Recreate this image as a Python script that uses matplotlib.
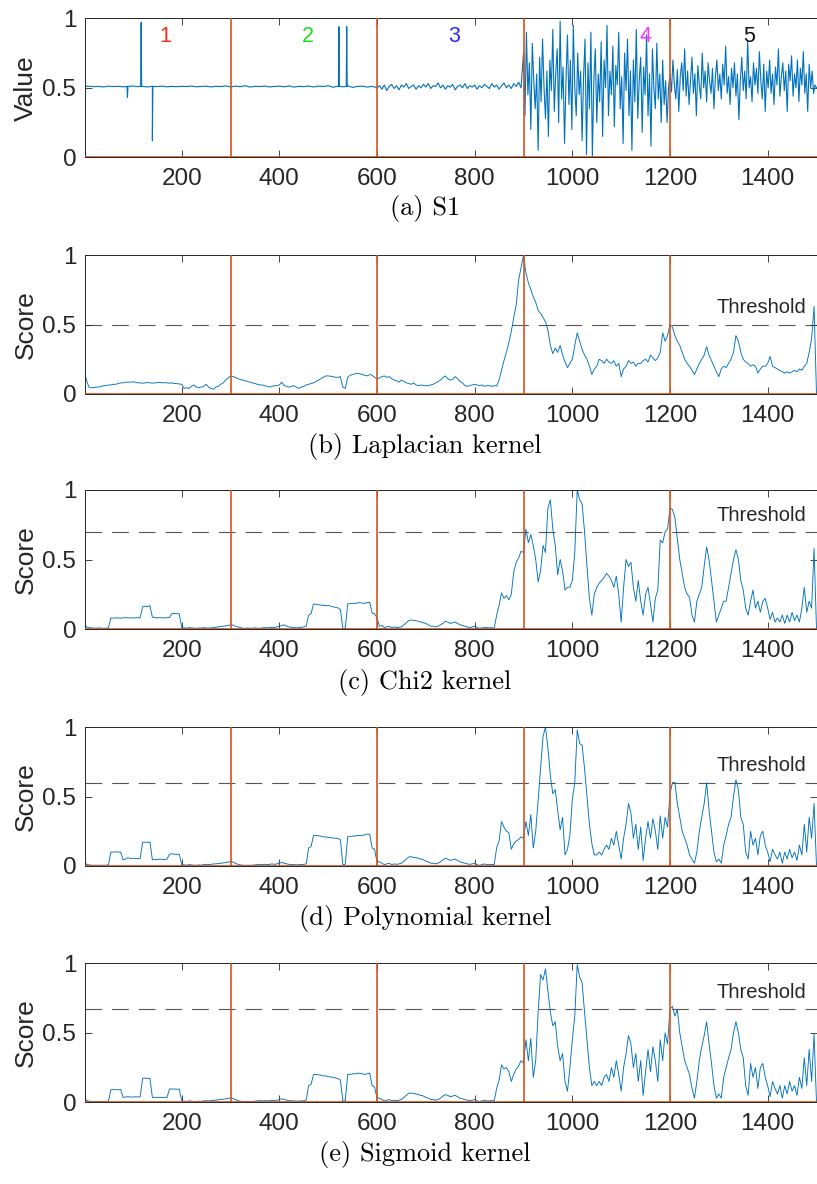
import matplotlib
matplotlib.use("Agg")
import matplotlib.pyplot as plt
import numpy as np

plt.rcParams['font.family'] = ['Liberation Sans', 'DejaVu Sans']
plt.rcParams['axes.unicode_minus'] = False

# --- data --------------------------------------------------------------
change_points = [300, 600, 900, 1200]
seg_labels = ['1', '2', '3', '4', '5']
seg_label_x = [167, 458, 757, 1150, 1363]
seg_label_colors = ['#FF2A1A', '#1AE01A', '#2A2AFF', '#FF33FF', '#111111']

# S1: quiet part (x = 0..590, step 10)
s1_seg12 = [0.51, 0.512, 0.508, 0.51, 0.506, 0.512, 0.509, 0.511, 0.507, 0.51,
            0.513, 0.508, 0.51, 0.506, 0.511, 0.509, 0.512, 0.507, 0.51, 0.508,
            0.511, 0.509, 0.513, 0.507, 0.51, 0.512, 0.506, 0.511, 0.509, 0.514,
            0.506, 0.512, 0.508, 0.515, 0.505, 0.511, 0.509, 0.513, 0.506, 0.51,
            0.512, 0.507, 0.514, 0.505, 0.511, 0.508, 0.513, 0.506, 0.512, 0.509,
            0.515, 0.504, 0.511, 0.507, 0.514, 0.503, 0.51, 0.512, 0.505, 0.511]
# S1: segment 3 (x = 600..895, step 5)
s1_seg3 = [0.5, 0.515, 0.49, 0.52, 0.48, 0.51, 0.525, 0.495, 0.515, 0.485,
           0.52, 0.505, 0.53, 0.495, 0.51, 0.52, 0.49, 0.515, 0.5, 0.525,
           0.505, 0.53, 0.495, 0.515, 0.51, 0.535, 0.5, 0.52, 0.49, 0.515,
           0.505, 0.525, 0.485, 0.51, 0.52, 0.5, 0.53, 0.495, 0.515, 0.505,
           0.52, 0.49, 0.515, 0.5, 0.525, 0.51, 0.495, 0.53, 0.505, 0.52,
           0.49, 0.515, 0.535, 0.5, 0.52, 0.495, 0.53, 0.51, 0.54, 0.5]
# S1: segment 4 (x = 900..1197, step 3)
s1_seg4 = [0.75, 0.3, 0.9, 0.45, 0.68, 0.2, 0.82, 0.55, 0.35, 0.6,
           0.05, 0.72, 0.4, 0.85, 0.5, 0.28, 0.62, 0.15, 0.7, 0.48,
           0.92, 0.33, 0.6, 0.78, 0.25, 0.98, 0.42, 0.65, 0.1, 0.55,
           0.88, 0.38, 0.7, 0.2, 0.95, 0.5, 0.3, 0.75, 0.45, 0.62,
           0.12, 0.58, 0.85, 0.02, 0.68, 0.35, 0.9, 0.0, 0.55, 0.78,
           0.25, 0.6, 0.4, 0.83, 0.15, 0.7, 0.5, 0.95, 0.3, 0.62,
           0.45, 0.8, 0.22, 0.66, 0.52, 0.9, 0.35, 0.58, 0.1, 0.75,
           0.48, 0.85, 0.3, 0.62, 0.05, 0.7, 0.4, 0.92, 0.28, 0.55,
           0.72, 0.18, 0.65, 0.45, 0.88, 0.3, 0.6, 0.08, 0.78, 0.5,
           0.35, 0.82, 0.42, 0.6, 0.25, 0.7, 0.38, 0.55, 0.25, 0.5]
# S1: segment 5 (x = 1200..1500, step 3)
s1_seg5 = [0.6, 0.47, 0.7, 0.52, 0.42, 0.63, 0.33, 0.58, 0.68, 0.48,
           0.78, 0.44, 0.62, 0.38, 0.55, 0.72, 0.46, 0.6, 0.3, 0.66,
           0.52, 0.42, 0.75, 0.5, 0.62, 0.4, 0.68, 0.55, 0.46, 0.64,
           0.35, 0.58, 0.7, 0.48, 0.6, 0.42, 0.67, 0.52, 0.8, 0.46,
           0.58, 0.38, 0.64, 0.5, 0.68, 0.44, 0.6, 0.27, 0.55, 0.72,
           0.48, 0.62, 0.42, 0.84, 0.5, 0.58, 0.4, 0.68, 0.52, 0.64,
           0.46, 0.76, 0.55, 0.42, 0.67, 0.33, 0.62, 0.5, 0.7, 0.46,
           0.6, 0.38, 0.65, 0.52, 0.78, 0.44, 0.58, 0.68, 0.48, 0.62,
           0.33, 0.67, 0.55, 0.73, 0.44, 0.6, 0.5, 0.7, 0.4, 0.64,
           0.52, 0.76, 0.46, 0.6, 0.33, 0.67, 0.5, 0.62, 0.46, 0.52, 0.5]
# S1 outliers (with neighbouring samples)
spike_x = [88, 89, 90, 116, 117, 118, 139, 140, 141, 521, 522, 523, 537, 538, 539]
spike_y = [0.51, 0.43, 0.51, 0.51, 0.97, 0.51, 0.51, 0.12, 0.51,
           0.51, 0.94, 0.51, 0.51, 0.94, 0.51]

# scores, x = 0..1500 step 5
score_x = np.arange(0, 1501, 5)
laplacian = [
    0.18, 0.10, 0.05, 0.045, 0.045, 0.05, 0.05, 0.055, 0.06, 0.06, 0.065, 0.065, 0.07, 0.07, 0.075, 0.08, 0.08, 0.085, 0.085, 0.085,
    0.088, 0.085, 0.08, 0.08, 0.078, 0.08, 0.082, 0.08, 0.078, 0.08, 0.082, 0.085, 0.08, 0.082, 0.08, 0.078, 0.08, 0.075, 0.075, 0.072,
    0.07, 0.04, 0.045, 0.04, 0.055, 0.065, 0.05, 0.045, 0.05, 0.055, 0.07, 0.05, 0.04, 0.035, 0.05, 0.055, 0.07, 0.08, 0.1, 0.115,
    0.13, 0.125, 0.12, 0.11, 0.105, 0.1, 0.095, 0.09, 0.085, 0.08, 0.075, 0.07, 0.065, 0.065, 0.06, 0.055, 0.05, 0.055, 0.06, 0.06,
    0.065, 0.085, 0.06, 0.055, 0.05, 0.055, 0.06, 0.05, 0.04, 0.05, 0.055, 0.065, 0.07, 0.075, 0.08, 0.09, 0.1, 0.11, 0.12, 0.13,
    0.13, 0.128, 0.125, 0.12, 0.12, 0.125, 0.05, 0.04, 0.12, 0.135, 0.14, 0.145, 0.15, 0.145, 0.14, 0.135, 0.13, 0.14, 0.135, 0.12,
    0.11, 0.115, 0.125, 0.13, 0.12, 0.125, 0.11, 0.1, 0.095, 0.085, 0.1, 0.09, 0.08, 0.075, 0.07, 0.08, 0.065, 0.06, 0.065, 0.06,
    0.06, 0.06, 0.065, 0.07, 0.08, 0.09, 0.1, 0.12, 0.13, 0.11, 0.1, 0.105, 0.125, 0.11, 0.09, 0.08, 0.06, 0.055, 0.06, 0.065,
    0.07, 0.065, 0.06, 0.065, 0.055, 0.06, 0.06, 0.055, 0.06, 0.058, 0.1, 0.17, 0.24, 0.3, 0.37, 0.45, 0.55, 0.64, 0.82, 0.91,
    1.0, 0.87, 0.8, 0.75, 0.7, 0.66, 0.6, 0.58, 0.55, 0.52, 0.46, 0.35, 0.29, 0.33, 0.3, 0.35, 0.28, 0.23, 0.19, 0.22,
    0.25, 0.35, 0.44, 0.38, 0.32, 0.28, 0.25, 0.2, 0.14, 0.18, 0.2, 0.25, 0.24, 0.22, 0.25, 0.23, 0.22, 0.24, 0.2, 0.22,
    0.125, 0.18, 0.2, 0.24, 0.22, 0.23, 0.2, 0.22, 0.22, 0.24, 0.25, 0.23, 0.28, 0.26, 0.24, 0.26, 0.3, 0.44, 0.38, 0.42,
    0.5, 0.48, 0.42, 0.38, 0.35, 0.3, 0.25, 0.22, 0.2, 0.17, 0.14, 0.18, 0.22, 0.25, 0.28, 0.34, 0.28, 0.24, 0.2, 0.16,
    0.125, 0.18, 0.2, 0.19, 0.22, 0.25, 0.3, 0.42, 0.38, 0.3, 0.25, 0.23, 0.22, 0.2, 0.21, 0.2, 0.15, 0.18, 0.2, 0.2,
    0.22, 0.27, 0.2, 0.19, 0.18, 0.17, 0.16, 0.15, 0.16, 0.15, 0.16, 0.17, 0.16, 0.18, 0.17, 0.2, 0.22, 0.3, 0.4, 0.63,
    0.0]
chi2 = [
    0.05, 0.015, 0.01, 0.008, 0.006, 0.006, 0.008, 0.006, 0.005, 0.006, 0.008, 0.08, 0.078, 0.08, 0.08, 0.078, 0.08, 0.082, 0.08, 0.08,
    0.08, 0.08, 0.082, 0.08, 0.16, 0.165, 0.16, 0.168, 0.085, 0.082, 0.08, 0.082, 0.08, 0.08, 0.082, 0.082, 0.11, 0.112, 0.11, 0.11,
    0.01, 0.008, 0.006, 0.01, 0.008, 0.006, 0.005, 0.008, 0.006, 0.01, 0.008, 0.006, 0.008, 0.01, 0.012, 0.015, 0.018, 0.02, 0.022, 0.025,
    0.03, 0.028, 0.02, 0.015, 0.01, 0.006, 0.005, 0.008, 0.005, 0.006, 0.008, 0.006, 0.005, 0.008, 0.01, 0.008, 0.01, 0.012, 0.01, 0.015,
    0.02, 0.025, 0.03, 0.02, 0.015, 0.012, 0.01, 0.008, 0.01, 0.012, 0.015, 0.02, 0.1, 0.11, 0.18, 0.178, 0.175, 0.172, 0.17, 0.168,
    0.17, 0.165, 0.16, 0.155, 0.152, 0.14, 0.005, 0.006, 0.18, 0.182, 0.185, 0.183, 0.188, 0.19, 0.186, 0.185, 0.19, 0.192, 0.115, 0.11,
    0.08, 0.02, 0.025, 0.01, 0.015, 0.02, 0.01, 0.015, 0.01, 0.012, 0.015, 0.03, 0.045, 0.06, 0.065, 0.062, 0.06, 0.055, 0.05, 0.045,
    0.04, 0.03, 0.02, 0.02, 0.015, 0.02, 0.03, 0.04, 0.055, 0.05, 0.04, 0.045, 0.05, 0.04, 0.03, 0.025, 0.02, 0.015, 0.01, 0.015,
    0.02, 0.01, 0.005, 0.008, 0.01, 0.01, 0.008, 0.01, 0.005, 0.1, 0.17, 0.26, 0.22, 0.24, 0.21, 0.25, 0.41, 0.48, 0.51, 0.56,
    0.55, 0.72, 0.62, 0.68, 0.6, 0.5, 0.34, 0.42, 0.6, 0.55, 0.87, 0.93, 0.72, 0.6, 0.39, 0.5, 0.42, 0.28, 0.3, 0.3,
    0.35, 0.55, 1.0, 0.93, 0.9, 0.7, 0.45, 0.22, 0.1, 0.25, 0.3, 0.33, 0.35, 0.37, 0.4, 0.38, 0.35, 0.3, 0.38, 0.25,
    0.05, 0.3, 0.5, 0.45, 0.48, 0.3, 0.2, 0.35, 0.2, 0.1, 0.25, 0.3, 0.18, 0.05, 0.22, 0.28, 0.64, 0.62, 0.7, 0.72,
    0.87, 0.86, 0.8, 0.65, 0.5, 0.4, 0.3, 0.25, 0.23, 0.1, 0.05, 0.2, 0.25, 0.3, 0.45, 0.59, 0.5, 0.35, 0.2, 0.05,
    0.1, 0.15, 0.2, 0.2, 0.3, 0.4, 0.5, 0.57, 0.5, 0.35, 0.28, 0.15, 0.1, 0.2, 0.28, 0.15, 0.2, 0.12, 0.2, 0.22,
    0.15, 0.07, 0.12, 0.05, 0.08, 0.05, 0.1, 0.04, 0.1, 0.05, 0.12, 0.06, 0.1, 0.05, 0.15, 0.3, 0.12, 0.2, 0.15, 0.58,
    0.0]
polynomial = [
    0.04, 0.012, 0.008, 0.006, 0.005, 0.006, 0.005, 0.006, 0.005, 0.006, 0.008, 0.1, 0.1, 0.102, 0.1, 0.1, 0.045, 0.05, 0.06, 0.055,
    0.055, 0.055, 0.052, 0.055, 0.17, 0.172, 0.17, 0.172, 0.045, 0.048, 0.045, 0.05, 0.048, 0.045, 0.05, 0.085, 0.088, 0.085, 0.082, 0.085,
    0.01, 0.008, 0.006, 0.01, 0.008, 0.006, 0.005, 0.008, 0.006, 0.01, 0.012, 0.01, 0.012, 0.015, 0.015, 0.018, 0.02, 0.022, 0.025, 0.028,
    0.032, 0.028, 0.02, 0.012, 0.008, 0.006, 0.005, 0.006, 0.005, 0.006, 0.008, 0.01, 0.012, 0.01, 0.012, 0.01, 0.012, 0.015, 0.012, 0.015,
    0.02, 0.025, 0.02, 0.015, 0.012, 0.01, 0.01, 0.008, 0.01, 0.01, 0.012, 0.015, 0.13, 0.14, 0.22, 0.22, 0.218, 0.215, 0.21, 0.21,
    0.205, 0.205, 0.2, 0.2, 0.198, 0.19, 0.01, 0.012, 0.21, 0.212, 0.215, 0.215, 0.22, 0.218, 0.22, 0.225, 0.23, 0.228, 0.13, 0.12,
    0.03, 0.03, 0.02, 0.01, 0.015, 0.02, 0.01, 0.015, 0.012, 0.015, 0.02, 0.035, 0.05, 0.065, 0.067, 0.062, 0.06, 0.055, 0.05, 0.045,
    0.035, 0.03, 0.02, 0.02, 0.015, 0.02, 0.03, 0.045, 0.055, 0.05, 0.04, 0.045, 0.05, 0.04, 0.03, 0.025, 0.02, 0.015, 0.012, 0.015,
    0.02, 0.01, 0.005, 0.01, 0.015, 0.01, 0.01, 0.012, 0.01, 0.13, 0.18, 0.32, 0.28, 0.25, 0.24, 0.12, 0.16, 0.18, 0.19, 0.21,
    0.2, 0.32, 0.22, 0.37, 0.13, 0.25, 0.48, 0.7, 0.93, 1.0, 0.85, 0.65, 0.52, 0.55, 0.4, 0.26, 0.35, 0.08, 0.12, 0.22,
    0.48, 0.6, 0.98, 0.88, 0.87, 0.7, 0.5, 0.3, 0.16, 0.08, 0.08, 0.1, 0.08, 0.12, 0.15, 0.12, 0.2, 0.15, 0.25, 0.15,
    0.05, 0.2, 0.3, 0.45, 0.38, 0.2, 0.3, 0.12, 0.28, 0.04, 0.2, 0.32, 0.2, 0.34, 0.25, 0.12, 0.36, 0.2, 0.35, 0.28,
    0.52, 0.6, 0.6, 0.45, 0.35, 0.25, 0.2, 0.15, 0.08, 0.05, 0.02, 0.1, 0.25, 0.35, 0.45, 0.6, 0.4, 0.25, 0.1, 0.03,
    0.05, 0.02, 0.15, 0.22, 0.3, 0.35, 0.5, 0.62, 0.55, 0.35, 0.3, 0.1, 0.05, 0.25, 0.15, 0.2, 0.08, 0.22, 0.25, 0.15,
    0.1, 0.03, 0.12, 0.08, 0.05, 0.1, 0.02, 0.1, 0.05, 0.12, 0.06, 0.1, 0.04, 0.15, 0.08, 0.3, 0.1, 0.35, 0.2, 0.45,
    0.0]
sigmoid = [
    0.04, 0.012, 0.008, 0.006, 0.005, 0.006, 0.005, 0.006, 0.005, 0.006, 0.008, 0.09, 0.092, 0.09, 0.09, 0.092, 0.036, 0.038, 0.04, 0.038,
    0.038, 0.04, 0.038, 0.04, 0.172, 0.174, 0.172, 0.174, 0.035, 0.036, 0.035, 0.036, 0.035, 0.036, 0.035, 0.095, 0.096, 0.095, 0.094, 0.095,
    0.01, 0.008, 0.006, 0.01, 0.008, 0.006, 0.005, 0.008, 0.006, 0.01, 0.012, 0.01, 0.012, 0.015, 0.015, 0.018, 0.02, 0.022, 0.025, 0.028,
    0.032, 0.028, 0.02, 0.012, 0.008, 0.006, 0.005, 0.006, 0.005, 0.006, 0.008, 0.01, 0.012, 0.01, 0.012, 0.01, 0.012, 0.015, 0.012, 0.015,
    0.02, 0.025, 0.02, 0.015, 0.012, 0.01, 0.01, 0.008, 0.01, 0.01, 0.012, 0.015, 0.12, 0.13, 0.2, 0.2, 0.198, 0.195, 0.19, 0.19,
    0.185, 0.182, 0.18, 0.175, 0.17, 0.16, 0.01, 0.012, 0.2, 0.2, 0.205, 0.205, 0.21, 0.208, 0.205, 0.2, 0.205, 0.21, 0.12, 0.11,
    0.03, 0.03, 0.02, 0.01, 0.015, 0.02, 0.01, 0.015, 0.012, 0.015, 0.02, 0.035, 0.05, 0.065, 0.067, 0.062, 0.06, 0.055, 0.05, 0.045,
    0.035, 0.03, 0.02, 0.02, 0.015, 0.02, 0.03, 0.045, 0.055, 0.05, 0.04, 0.045, 0.05, 0.04, 0.03, 0.025, 0.02, 0.015, 0.012, 0.015,
    0.02, 0.01, 0.005, 0.01, 0.015, 0.01, 0.01, 0.012, 0.01, 0.1, 0.16, 0.27, 0.24, 0.25, 0.22, 0.15, 0.2, 0.24, 0.26, 0.3,
    0.28, 0.45, 0.3, 0.46, 0.18, 0.3, 0.65, 0.92, 0.88, 0.96, 0.8, 0.65, 0.55, 0.58, 0.4, 0.3, 0.35, 0.15, 0.08, 0.25,
    0.45, 0.62, 0.99, 0.9, 0.86, 0.65, 0.45, 0.25, 0.12, 0.15, 0.12, 0.15, 0.12, 0.18, 0.2, 0.15, 0.25, 0.18, 0.3, 0.2,
    0.08, 0.25, 0.35, 0.48, 0.42, 0.25, 0.35, 0.15, 0.3, 0.05, 0.22, 0.38, 0.22, 0.4, 0.3, 0.15, 0.45, 0.3, 0.5, 0.42,
    0.67, 0.69, 0.62, 0.67, 0.5, 0.4, 0.3, 0.25, 0.2, 0.1, 0.03, 0.15, 0.3, 0.4, 0.48, 0.58, 0.42, 0.28, 0.12, 0.03,
    0.06, 0.03, 0.18, 0.25, 0.32, 0.38, 0.5, 0.58, 0.5, 0.38, 0.32, 0.12, 0.05, 0.28, 0.18, 0.25, 0.1, 0.25, 0.28, 0.18,
    0.12, 0.04, 0.15, 0.1, 0.06, 0.12, 0.03, 0.12, 0.06, 0.15, 0.08, 0.12, 0.05, 0.18, 0.1, 0.32, 0.12, 0.38, 0.15, 0.49,
    0.0]

scores = [laplacian, chi2, polynomial, sigmoid]
thresholds = [0.5, 0.7, 0.6, 0.67]
captions = ['(a) S1', '(b) Laplacian kernel', '(c) Chi2 kernel',
            '(d) Polynomial kernel', '(e) Sigmoid kernel']

# --- figure ---------------------------------------------------------------
W, H = 817, 1184
fig = plt.figure(figsize=(W / 100, H / 100), dpi=100)

blue = '#0072BD'
orange = '#D95319'
axcol = '#262626'

panel_tops = [18.3, 255, 490, 727, 963.3]
panel_h = 139
caption_y = [209, 446, 682, 918, 1155]
ax_left, ax_w = 84.5, 732


def style_axes(ax, ylabel):
    ax.set_xlim(1, 1500)
    ax.set_ylim(0, 1)
    ax.set_xticks([200, 400, 600, 800, 1000, 1200, 1400])
    ax.set_yticks([0, 0.5, 1])
    ax.set_yticklabels(['0', '0.5', '1'])
    ax.tick_params(direction='in', top=True, right=True, length=5, width=0.6,
                   labelsize=17.5, colors=axcol, pad=6)
    ax.tick_params(axis='x', pad=8)
    for s in ax.spines.values():
        s.set_color(axcol)
        s.set_linewidth(0.7)
    ax.set_ylabel(ylabel, fontsize=19, color=axcol)
    ax.yaxis.set_label_coords(-0.064, 0.5)
    # change points drawn as stems with baseline
    ax.vlines(change_points, 0, 1, color=orange, lw=1.2, zorder=3)
    ax.axhline(0, color=orange, lw=1.2, zorder=3)


axes = []
for i in range(5):
    b = 1 - (panel_tops[i] + panel_h) / H
    ax = fig.add_axes([ax_left / W, b, ax_w / W, panel_h / H])
    axes.append(ax)

# panel (a): the signal
x12 = np.arange(0, 600, 10)
x3 = np.arange(600, 900, 5)
x4 = np.arange(900, 1200, 3)
x5 = np.arange(1200, 1501, 3)
s1_x = np.concatenate([x12, x3, x4, x5, spike_x])
s1_y = np.concatenate([s1_seg12, s1_seg3, s1_seg4, s1_seg5[:len(x5)], spike_y])
order = np.argsort(s1_x, kind='stable')
ax = axes[0]
ax.plot(s1_x[order], s1_y[order], color=blue, lw=0.8, zorder=2)
style_axes(ax, 'Value')
for lab, lx, c in zip(seg_labels, seg_label_x, seg_label_colors):
    ax.text(lx, 0.87, lab, color=c, fontsize=15.5, ha='center', va='center')

# score panels
for i, (sc, thr) in enumerate(zip(scores, thresholds)):
    ax = axes[i + 1]
    ax.plot(score_x, sc, color=blue, lw=0.65, zorder=2)
    ax.axhline(thr, color='#555555', lw=0.8, ls=(0, (15, 9)), zorder=1)
    ax.text(1480, thr + 0.12, 'Threshold', fontsize=14.5, color=axcol,
            ha='right', va='center')
    style_axes(ax, 'Score')

for cap, cy in zip(captions, caption_y):
    fig.text(425 / W, 1 - cy / H, cap, fontsize=19, family='cmr10',
             ha='center', va='center')

fig.savefig('out.png', dpi=100)
